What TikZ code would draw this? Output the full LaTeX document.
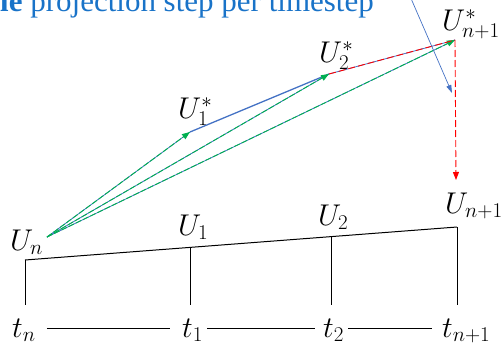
\RequirePackage{fix-cm}
\documentclass[tikz,border=0pt]{standalone}
\usepackage{amsmath}
\usepackage{fontspec}
\newfontfamily\titlefont{Liberation Serif}
\usepackage{tikz}
\usetikzlibrary{arrows.meta, calc, positioning}

\definecolor{titleblue}{RGB}{25,115,200}
\definecolor{lineblue}{RGB}{68,114,196}
\definecolor{stepgreen}{RGB}{0,176,80}
\definecolor{stepred}{RGB}{255,0,0}

\tikzset{
    ulabel/.style={anchor=base west, inner sep=0pt, font=\fontsize{30}{32}\selectfont},
    tlabel/.style={anchor=base west, inner xsep=1pt, inner ysep=0pt,
        text height=22pt, text depth=4pt, font=\fontsize{30}{32}\selectfont},
    bluelink/.style={draw=lineblue, line width=0.8pt},
    greenstep/.style={draw=stepgreen, line width=0.9pt, dash pattern=on 6pt off 2pt,
        -{Triangle[length=8pt, width=6pt]}},
    redstep/.style={draw=stepred, line width=0.9pt, dash pattern=on 7pt off 3pt},
    frame/.style={draw=black, line width=1pt},
}

\begin{document}
\begin{tikzpicture}[x=1pt, y=-1pt, >=stealth]

    \useasboundingbox (0,0) rectangle (501,351);
    \clip (0,0) rectangle (501,351);

    % =================================================================
    % 1. TIEU DE (bi cat o mep tren)
    % =================================================================
    \node[anchor=base west, inner sep=0pt, text=titleblue,
        font=\titlefont\fontsize{31}{33}\selectfont] (title) at (0,11)
        {\textbf{le} projection step per timestep};

    % =================================================================
    % 2. CAC DIEM U_n, U_1^*, U_2^*, U_{n+1}^*, U_{n+1}
    % =================================================================
    \coordinate (pn) at (47,237);
    \coordinate (s1) at (190,132);
    \coordinate (s2) at (329,74);
    \coordinate (sn) at (455,40);
    \coordinate (pe) at (456,180);

    \node[ulabel] (Un)  at (10,250)  {$U_n$};
    \node[ulabel] (U1s) at (178,118) {$U_1^*$};
    \node[ulabel] (U2s) at (319,62)  {$U_2^*$};
    \node[ulabel] (Uns) at (442,30)  {$U_{n+1}^*$};

    % duong xanh duong nen
    \draw[bluelink] (pn) -- (s1);
    \draw[bluelink] (pn) -- (s2);
    \draw[bluelink] (pn) -- (sn);
    \draw[bluelink, line width=1.3pt] (s1) -- (s2);
    \draw[bluelink] (s2) -- (sn);

    % cac buoc du doan (xanh la)
    \draw[greenstep] (pn) -- (s1);
    \draw[greenstep] (pn) -- (s2);
    \draw[greenstep] (pn) -- (sn);

    % buoc chieu (do)
    \draw[redstep] (s2) -- (sn);
    \draw[redstep, -{Triangle[length=8pt, width=6pt]}] (sn) -- (pe);

    % mui ten xanh tu tieu de
    \coordinate (arrstart) at (403,-20);
    \coordinate (arrend) at (452,93);
    \draw[lineblue, line width=0.7pt, -{Triangle[length=8pt, width=5pt]}] (arrstart) -- (arrend);

    % =================================================================
    % 3. KHUNG THOI GIAN
    % =================================================================
    \node[ulabel] (U1) at (178,235) {$U_1$};
    \node[ulabel] (U2) at (318,225) {$U_2$};
    \node[ulabel] (Ue) at (445,213) {$U_{n+1}$};

    \coordinate (b0) at (25,260);
    \coordinate (b3) at (457,227);
    \foreach \name/\xx in {b1/190, b2/331} {
        \coordinate (\name) at ($(b0)!{(\xx-25)/432}!(b3)$);
    }
    \draw[frame] (b0) -- (b3);
    \foreach \b in {b0, b1, b2, b3} {
        \draw[frame] (\b) -- (\b |- 0,305);
    }

    \node[tlabel] (tn) at (11,337)  {$t_n$};
    \node[tlabel] (t1) at (181,337) {$t_1$};
    \node[tlabel] (t2) at (322,337) {$t_2$};
    \node[tlabel] (te) at (441,337) {$t_{n+1}$};

    \draw[frame, shorten <=10pt, shorten >=11pt] (tn) -- (t1);
    \draw[frame, shorten <=3pt, shorten >=7pt] (t1) -- (t2);
    \draw[frame, shorten <=3pt, shorten >=9pt] (t2) -- (te);

\end{tikzpicture}
\end{document}
